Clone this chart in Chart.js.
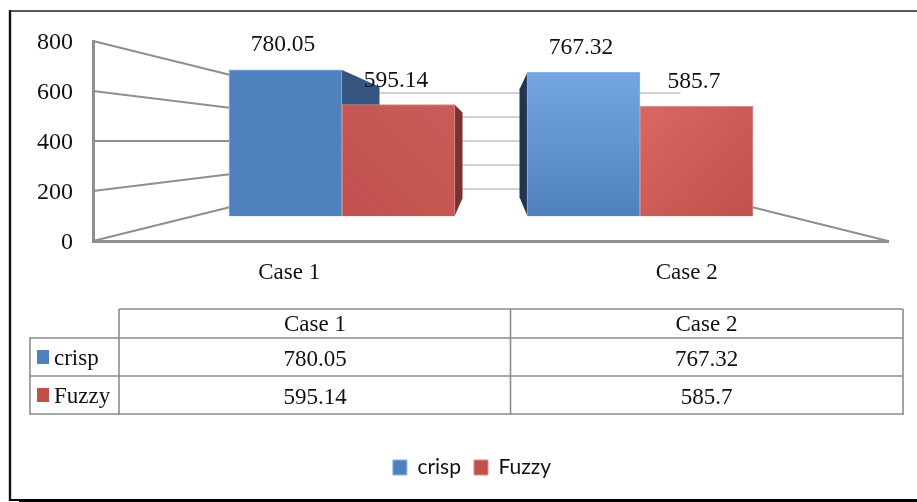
<!DOCTYPE html>
<html>
<head>
<meta charset="utf-8">
<style>html,body{margin:0;padding:0;background:#fff}canvas{display:block}</style>
<script src="https://cdn.jsdelivr.net/npm/chart.js@4/dist/chart.umd.min.js"></script>
</head>
<body>
<canvas id="c" width="917" height="502"></canvas>
<script>
const categories = ['Case 1', 'Case 2'];
const crisp = [780.05, 767.32];
const fuzzy = [595.14, 585.7];
const crispLabels = ['780.05', '767.32'];
const fuzzyLabels = ['595.14', '585.7'];
const seriesNames = ['crisp', 'Fuzzy'];
const yTicks = [0, 200, 400, 600, 800];
const seriesColors = ['#4f81bd', '#c0504d'];
const serif = '"Liberation Serif", serif';
const textColor = '#111';
const gridColor = '#8f8f8f';

function barFill(ctx) {
  const ds = ctx.datasetIndex;
  if (ctx.type !== 'data' || !ctx.parsed) return seriesColors[ds];
  const g = ctx.chart.ctx;
  const y2 = ctx.chart.scales.y2, x2 = ctx.chart.scales.x2;
  const top = y2.getPixelForValue(ctx.parsed.y), base = y2.getPixelForValue(0);
  const cx = x2.getPixelForValue(ctx.parsed.x);
  if (!isFinite(top) || !isFinite(base) || !isFinite(cx)) return seriesColors[ds];
  let grad;
  if (ds === 0 && ctx.dataIndex === 0) return '#4f81bd';
  if (ds === 0) {
    grad = g.createLinearGradient(0, top, 0, base);
    grad.addColorStop(0, '#74a6e2'); grad.addColorStop(1, '#4f81bd');
  } else if (ctx.dataIndex === 0) {
    grad = g.createLinearGradient(cx + 113, top, cx, base);
    grad.addColorStop(0, '#ca5d59'); grad.addColorStop(1, '#bf504d');
  } else {
    grad = g.createLinearGradient(cx, top, cx + 113, base);
    grad.addColorStop(0, '#d96761'); grad.addColorStop(1, '#c0504d');
  }
  return grad;
}
function barEdge(ctx) {
  if (ctx.type !== 'data') return seriesColors[ctx.datasetIndex];
  return ctx.datasetIndex === 0 ? '#8db3e2' : '#d98c89';
}

function poly(g, pts, color) {
  g.fillStyle = color;
  g.beginPath();
  pts.forEach((p, i) => i ? g.lineTo(p[0], p[1]) : g.moveTo(p[0], p[1]));
  g.closePath();
  g.fill();
}
function seg(g, x0, y0, x1, y1, w, color) {
  g.strokeStyle = color; g.lineWidth = w;
  g.beginPath(); g.moveTo(x0, y0); g.lineTo(x1, y1); g.stroke();
}

const scene = {
  id: 'scene',
  afterLayout(chart) {
    const l = chart.legend;
    const h = l.bottom - l.top;
    const shift = 472 - (l.left + l.right) / 2;
    l.left += shift; l.right += shift;
    l.top = 466 - h / 2; l.bottom = l.top + h;
  },
  beforeDatasetsDraw(chart) {
    const g = chart.ctx, y = chart.scales.y;
    const mid = y.getPixelForValue(400);
    const m0 = chart.getDatasetMeta(0).data, m1 = chart.getDatasetMeta(1).data;
    const left = chart.chartArea.left, right = chart.chartArea.right;
    g.save();
    yTicks.forEach(v => {
      const w = y.getPixelForValue(v);
      seg(g, left, w, m0[0].x - 56, mid + (w - mid) * 0.663, 2, gridColor);
      const back = mid + (w - mid) * 0.48;
      seg(g, m0[0].x, back, m1[1].x - 16, back, 1.2, '#a3a3a3');
    });
    const z = y.getPixelForValue(0);
    seg(g, right, z, m1[1].x + 56, mid + (z - mid) * 0.663, 2, gridColor);
    const a = m0[0];
    poly(g, [[a.x + 56, a.y], [a.x + 94, a.y + 17], [a.x + 94, a.y + 40], [a.x + 56, a.y + 40]], '#34557f');
    const r = m1[0];
    poly(g, [[r.x + 56, r.y], [r.x + 64, r.y + 8], [r.x + 64, r.base - 18], [r.x + 56, r.base]], '#7a3230');
    const b = m0[1];
    poly(g, [[b.x - 56, b.y], [b.x - 64, b.y + 17], [b.x - 64, b.base - 19], [b.x - 56, b.base]], '#1f3650');
    g.restore();
  },
  afterDraw(chart) {
    const g = chart.ctx;
    g.save();
    g.lineCap = 'butt';
    seg(g, 10, 10, 10, 501, 2.4, '#111');
    seg(g, 9, 11, 917, 11, 1.6, '#222');
    seg(g, 9, 500, 917, 500, 2, '#000');
    seg(g, 19, 501.5, 917, 501.5, 1.5, '#000');

    g.fillStyle = textColor;
    g.textBaseline = 'middle';
    g.textAlign = 'center';
    g.font = '23.5px ' + serif;
    const m0 = chart.getDatasetMeta(0).data, m1 = chart.getDatasetMeta(1).data;
    crispLabels.forEach((t, i) => g.fillText(t, m0[i].x - 2.5, m0[i].y - 24.5));
    fuzzyLabels.forEach((t, i) => g.fillText(t, m1[i].x - 2.5, m1[i].y - 24));

    const c = '#8c8c8c';
    const hs = [338, 376, 414];
    seg(g, 119, 309, 903, 309, 1.5, c);
    hs.forEach(h => seg(g, 30, h, 903, h, 1.6, c));
    seg(g, 30, 337, 30, 415, 1.6, c);
    seg(g, 119, 309, 119, 415, 1.6, c);
    seg(g, 510.5, 309, 510.5, 415, 1.6, c);
    seg(g, 903, 309, 903, 415, 1.6, c);

    g.fillStyle = textColor;
    g.font = '23px ' + serif;
    categories.forEach((t, i) => g.fillText(t, [315, 706.5][i], 325));
    crispLabels.forEach((t, i) => g.fillText(t, [315, 706.5][i], 359.5));
    fuzzyLabels.forEach((t, i) => g.fillText(t, [315, 706.5][i], 397.5));
    g.textAlign = 'left';
    g.fillText(seriesNames[0], 54, 359);
    g.fillText(seriesNames[1], 54, 397);
    g.fillStyle = seriesColors[0]; g.fillRect(37, 350, 12, 14);
    g.fillStyle = seriesColors[1]; g.fillRect(37, 388, 12, 14);
    g.restore();
  }
};

new Chart(document.getElementById('c'), {
  type: 'bar',
  data: {
    labels: categories,
    datasets: [
      { label: seriesNames[0], data: crisp.map((v, i) => ({ x: i, y: v })), xAxisID: 'x2', yAxisID: 'y2',
        backgroundColor: barFill, borderColor: barEdge, borderWidth: 1, barThickness: 113 },
      { label: seriesNames[1], data: fuzzy.map((v, i) => ({ x: i, y: v })), xAxisID: 'x2', yAxisID: 'y2',
        backgroundColor: barFill, borderColor: barEdge, borderWidth: 1, barThickness: 113 }
    ]
  },
  plugins: [{ id: 'bg', beforeDraw(c) { c.ctx.save(); c.ctx.fillStyle = '#fff'; c.ctx.fillRect(0, 0, c.width, c.height); c.ctx.restore(); } }, scene],
  options: {
    responsive: false,
    animation: false,
    devicePixelRatio: 1,
    layout: { padding: { top: 41, right: 29, left: 0, bottom: 0 } },
    plugins: {
      tooltip: { enabled: false },
      title: { display: false },
      legend: {
        display: true,
        position: 'bottom',
        labels: { boxWidth: 14, boxHeight: 15, padding: 13, color: '#111', font: { family: 'Lato', size: 21 } }
      }
    },
    scales: {
      x: {
        type: 'category',
        grid: { display: false, drawTicks: false },
        border: { display: true, color: '#8f8f8f', width: 3 },
        ticks: { color: textColor, font: { family: serif, size: 23 }, padding: 18, labelOffset: -2.5, maxRotation: 0 },
        afterFit(s) { s.height = 502 - 242 - 43; }
      },
      y: {
        type: 'linear', min: 0, max: 800,
        grid: { display: false, drawTicks: false },
        border: { display: true, color: '#8f8f8f', width: 3 },
        ticks: { color: textColor, stepSize: 200, font: { family: serif, size: 24 }, padding: 20, labelOffset: 1.5 },
        afterFit(s) { s.width = 93; }
      },
      x2: { type: 'linear', display: false, offset: false, min: -0.8356, max: 1.8322 },
      y2: { type: 'linear', display: false, min: -132.6, max: 933.7 }
    }
  }
});
</script>
</body>
</html>
